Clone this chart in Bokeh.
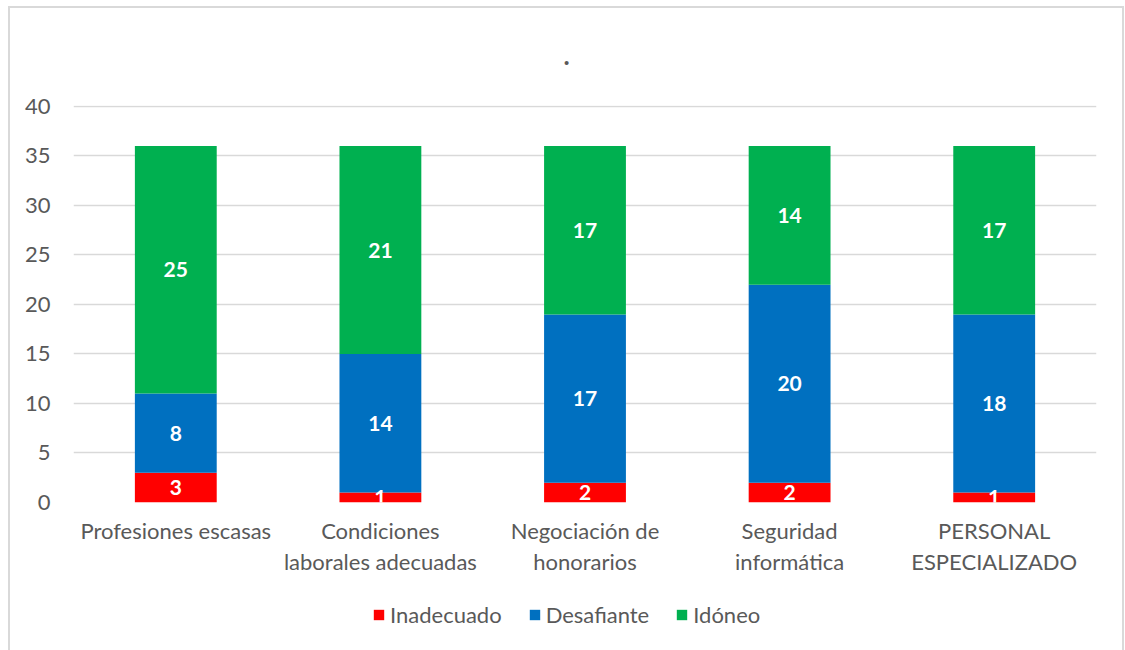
from bokeh.plotting import figure
from bokeh.layouts import column
from bokeh.models import (ColumnDataSource, Legend, LegendItem, Range1d,
                          InlineStyleSheet)
from bokeh.core.properties import value
from bokeh.embed import file_html
from bokeh.resources import INLINE

categories = ["Profesiones escasas", "Condiciones\nlaborales adecuadas",
              "Negociación de\nhonorarios", "Seguridad\ninformática",
              "PERSONAL\nESPECIALIZADO"]
series_names = ["Inadecuado", "Desafiante", "Idóneo"]
inadecuado = [3, 1, 2, 2, 1]
desafiante = [8, 14, 17, 20, 18]
idoneo = [25, 21, 17, 14, 17]
colors = ["#ff0000", "#0070c0", "#00b050"]
y_ticks = [0, 5, 10, 15, 20, 25, 30, 35, 40]

FONT = "Lato"
GRAY = "#595959"

p = figure(width=1125, height=590, x_range=categories,
           y_range=Range1d(0, 40.1),
           output_backend="svg", toolbar_location=None,
           min_border_left=73, min_border_right=29,
           min_border_top=105, min_border_bottom=88)
p.title.text = "."
p.title.align = "left"
p.title.offset = 490
p.title.standoff = 82
p.title.text_font = FONT
p.title.text_font_size = "26px"
p.title.text_color = GRAY
p.title.text_font_style = "bold"

p.outline_line_color = None
p.background_fill_color = "white"
p.border_fill_color = "white"

src = ColumnDataSource(dict(cat=categories, Inadecuado=inadecuado,
                            Desafiante=desafiante, Idóneo=idoneo))
renderers = p.vbar_stack(series_names, x="cat", width=0.4, color=colors,
                         line_color=None, source=src)

# value labels centred in each stacked segment
bottoms = [0] * len(categories)
for vals in (inadecuado, desafiante, idoneo):
    mids = [b + v / 2 for b, v in zip(bottoms, vals)]
    lab_src = ColumnDataSource(dict(cat=categories, y=mids,
                                    t=[str(v) for v in vals]))
    p.text(x="cat", y="y", text="t", source=lab_src,
           text_align="center", text_baseline="middle",
           text_color="white", text_font=value(FONT),
           text_font_style="bold", text_font_size="21px")
    bottoms = [b + v for b, v in zip(bottoms, vals)]

p.xgrid.grid_line_color = None
p.ygrid.grid_line_color = "#d9d9d9"
p.ygrid.grid_line_width = 1.5
p.yaxis.ticker = y_ticks
for ax in (p.xaxis[0], p.yaxis[0]):
    ax.axis_line_color = None
    ax.major_tick_line_color = None
    ax.minor_tick_line_color = None
    ax.major_label_text_font = FONT
    ax.major_label_text_font_size = "22px"
    ax.major_label_text_color = GRAY
p.yaxis.major_label_standoff = 17
p.xaxis.major_label_standoff = 8
p.xaxis.major_label_text_line_height = 1.15

# legend strip under the chart; the swatch renderers hold a zero-height bar
leg_fig = figure(width=1125, height=60, x_range=(0, 1), y_range=(0, 1),
                 output_backend="svg", toolbar_location=None,
                 x_axis_type=None, y_axis_type=None,
                 min_border_left=0, min_border_right=0,
                 min_border_top=0, min_border_bottom=10)
leg_fig.outline_line_color = None
leg_fig.grid.grid_line_color = None
swatches = [leg_fig.vbar(x=[0], top=[0], bottom=[0], width=0.01,
                         color=c, line_color=None)
            for c in colors]
legend = Legend(items=[LegendItem(label=n, renderers=[r])
                       for n, r in zip(series_names, swatches)],
                orientation="horizontal", location=(299, 12),
                label_text_font=FONT, label_text_font_size="22px",
                label_text_color=GRAY, glyph_width=13, glyph_height=13,
                label_standoff=5, spacing=26, border_line_color=None,
                background_fill_alpha=0, padding=0, margin=0)
leg_fig.add_layout(legend, "center")

layout = column(p, leg_fig, spacing=0)

# light frame around the whole chart
frame_css = InlineStyleSheet(css="""
:host::after {
  content: "";
  position: absolute;
  left: 8px; top: 6px;
  width: 1116px; height: 644px;
  box-sizing: border-box;
  border: 2px solid #d9d9d9;
  border-bottom: none;
  pointer-events: none;
  z-index: 10;
}
""")
layout.stylesheets = [frame_css]

open("out.html", "w").write(file_html(layout, INLINE))
